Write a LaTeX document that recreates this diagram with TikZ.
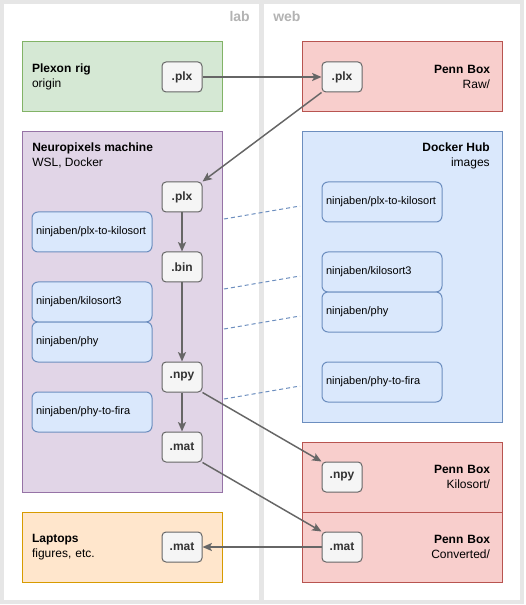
\documentclass[tikz,border=0pt]{standalone}
\usepackage{fontspec}
\setmainfont{Liberation Sans}
\usetikzlibrary{arrows.meta}
\definecolor{laneline}{HTML}{E6E6E6}
\definecolor{lanetext}{HTML}{B3B3B3}
\definecolor{plexfill}{HTML}{D5E8D4}
\definecolor{plexline}{HTML}{82B366}
\definecolor{pennfill}{HTML}{F8CECC}
\definecolor{pennline}{HTML}{B85450}
\definecolor{npfill}{HTML}{E1D5E7}
\definecolor{npline}{HTML}{9673A6}
\definecolor{hubfill}{HTML}{DAE8FC}
\definecolor{hubline}{HTML}{6C8EBF}
\definecolor{lapfill}{HTML}{FFE6CC}
\definecolor{lapline}{HTML}{D79B00}
\definecolor{filefill}{HTML}{F5F5F5}
\definecolor{fileline}{HTML}{666666}
\definecolor{filetext}{HTML}{333333}
\begin{document}
\begin{tikzpicture}[x=0.75pt,y=-0.75pt,font=\fontsize{9}{11.5}\selectfont]
			\tikzstyle{lane}=[draw=laneline,line width=3pt,fill=white]
			\tikzstyle{lanetitle}=[text=lanetext,inner sep=0pt,font=\fontsize{10.5}{12}\selectfont\bfseries]
			\tikzstyle{site}=[rectangle,line width=0.75pt,minimum width=150pt,minimum height=52.5pt,inner sep=0pt,text width=135pt]
			\tikzstyle{sitetitle}=[inner sep=0pt,font=\fontsize{9}{11}\selectfont]
			\tikzstyle{file}=[rectangle,rounded corners=3pt,draw=fileline,fill=filefill,text=filetext,line width=0.75pt,minimum width=30pt,minimum height=22.5pt,inner sep=0pt,font=\fontsize{9}{11}\selectfont\bfseries]
			\tikzstyle{dockerimg}=[rectangle,rounded corners=4.5pt,draw=hubline,fill=hubfill,line width=0.75pt,minimum width=90pt,minimum height=30pt,inner xsep=3pt,inner ysep=0pt,text width=84pt,align=left,font=\fontsize{8.25}{10}\selectfont]
			\tikzstyle{flow}=[draw=fileline,line width=1.1pt,-{Stealth[length=7pt,width=6pt,inset=1.5pt]}]
			\tikzstyle{link}=[draw=hubline,line width=0.75pt,dash pattern=on 3pt off 2.25pt]
			\useasboundingbox (0,0) rectangle (525,605);

			\draw[lane] (2,2) rectangle (261,602);
			\draw[lane] (262,2) rectangle (522,602);
			\node [lanetitle,anchor=east] (labtitle) at (250,17) {lab};
			\node [lanetitle,anchor=west] (webtitle) at (273,17) {web};

			\begin{scope}
			\node [site,draw=plexline,fill=plexfill,align=left] (plexon) at (122,77) {\textbf{Plexon rig}\\origin};
			\node [site,draw=pennline,fill=pennfill,align=right,text width=132pt] (raw) at (402,77) {\textbf{Penn Box}\\Raw/};
			\node [site,draw=npline,fill=npfill,minimum height=270pt] (npm) at (122,312) {};
			\node [site,draw=hubline,fill=hubfill,minimum height=217.5pt] (hub) at (402,277) {};
			\node [site,draw=pennline,fill=pennfill,align=right,text width=132pt] (kilosort) at (402,477) {\textbf{Penn Box}\\Kilosort/};
			\node [site,draw=pennline,fill=pennfill,align=right,text width=132pt] (converted) at (402,547) {\textbf{Penn Box}\\Converted/};
			\node [site,draw=lapline,fill=lapfill,align=left] (laptops) at (122,547) {\textbf{Laptops}\\figures, etc.};
			\node [sitetitle,anchor=north west,align=left] (npmtitle) at (32,142.5) {\textbf{Neuropixels machine}\\WSL, Docker};
			\node [sitetitle,anchor=north east,align=right] (hubtitle) at (490,142.5) {\textbf{Docker Hub}\\images};

			\node [file] (plexplx) at (182,77) {.plx};
			\node [file] (rawplx) at (342,77) {.plx};
			\node [file] (npplx) at (182,197) {.plx};
			\node [file] (npbin) at (182,267) {.bin};
			\node [file] (npnpy) at (182,377) {.npy};
			\node [file] (npmat) at (182,447) {.mat};
			\node [file] (ksnpy) at (342,477) {.npy};
			\node [file] (cvmat) at (342,547) {.mat};
			\node [file] (lpmat) at (182,547) {.mat};

			\node [dockerimg] (limg1) at (92,232) {ninjaben/plx-to-kilosort};
			\node [dockerimg] (limg2) at (92,302) {ninjaben/kilosort3};
			\node [dockerimg] (limg3) at (92,342) {ninjaben/phy};
			\node [dockerimg] (limg4) at (92,412) {ninjaben/phy-to-fira};
			\node [dockerimg] (rimg1) at (382,202) {ninjaben/plx-to-kilosort};
			\node [dockerimg] (rimg2) at (382,272) {ninjaben/kilosort3};
			\node [dockerimg] (rimg3) at (382,312) {ninjaben/phy};
			\node [dockerimg] (rimg4) at (382,382) {ninjaben/phy-to-fira};

			\coordinate (link1a) at (224,219);
			\coordinate (link1b) at (300,206);
			\coordinate (link2a) at (224,289);
			\coordinate (link2b) at (300,276);
			\coordinate (link3a) at (224,329);
			\coordinate (link3b) at (300,316);
			\coordinate (link4a) at (224,399);
			\coordinate (link4b) at (300,386);
			\draw[link] (link1a) -- (link1b);
			\draw[link] (link2a) -- (link2b);
			\draw[link] (link3a) -- (link3b);
			\draw[link] (link4a) -- (link4b);

			\draw[flow] (plexplx) -- (rawplx);
			\draw[flow] (rawplx.south west) -- (npplx.north east);
			\draw[flow] (npplx) -- (npbin);
			\draw[flow] (npbin) -- (npnpy);
			\draw[flow] (npnpy) -- (npmat);
			\draw[flow] (npnpy.south east) -- (ksnpy.north west);
			\draw[flow] (npmat.south east) -- (cvmat.north west);
			\draw[flow] (cvmat) -- (lpmat);
			\end{scope}
\end{tikzpicture}
\end{document}
